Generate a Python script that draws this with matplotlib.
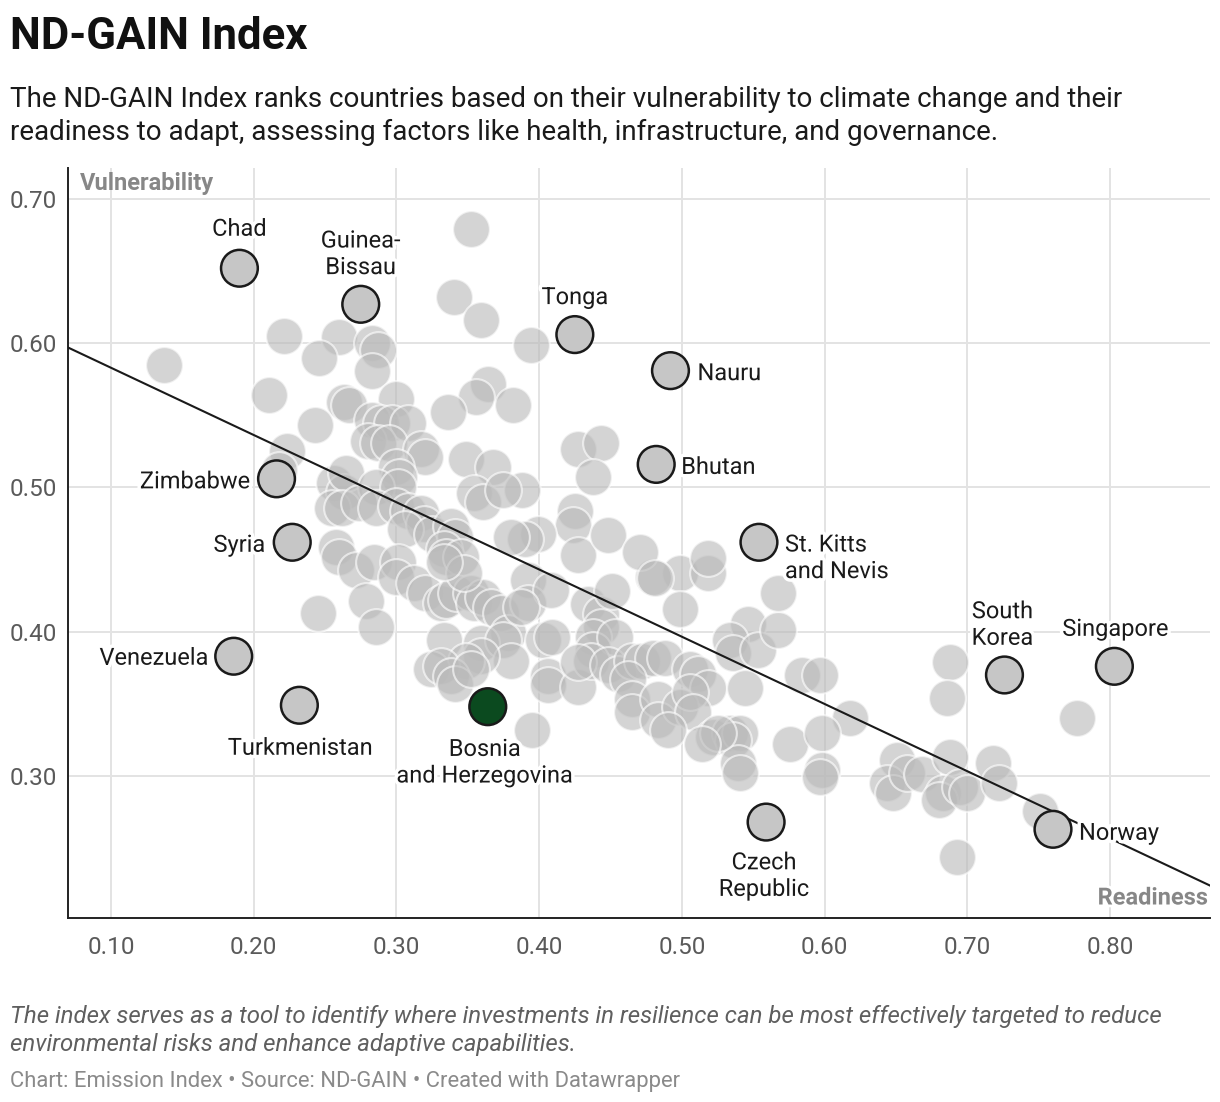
import matplotlib
matplotlib.use("Agg")
import matplotlib.pyplot as plt
import matplotlib.patheffects as pe

plt.rcParams['font.family'] = ['Roboto', 'DejaVu Sans']

# all countries (readiness, vulnerability)
readiness = [
    0.137, 0.221, 0.260, 0.246, 0.283, 0.287, 0.283, 0.211, 0.263, 0.267,
    0.300, 0.243, 0.283, 0.289, 0.297, 0.308, 0.280, 0.287, 0.295, 0.317,
    0.320, 0.223, 0.218,
    0.352, 0.340, 0.359, 0.394, 0.364, 0.356, 0.382, 0.336, 0.349, 0.368,
    0.388, 0.354, 0.361, 0.375, 0.427, 0.443, 0.438, 0.425, 0.424, 0.427,
    0.399, 0.448, 0.390, 0.380,
    0.256, 0.263, 0.265, 0.300, 0.302, 0.286, 0.301, 0.255, 0.262, 0.274,
    0.286, 0.300, 0.308, 0.317, 0.319, 0.306, 0.325, 0.338, 0.341, 0.333,
    0.335, 0.345, 0.258, 0.260, 0.272, 0.284, 0.301, 0.300, 0.312, 0.320,
    0.331, 0.335, 0.342, 0.352, 0.354, 0.361, 0.366, 0.373, 0.279, 0.245,
    0.286, 0.347, 0.333, 0.378, 0.333, 0.359, 0.375, 0.380, 0.359, 0.349,
    0.324, 0.331, 0.338, 0.341, 0.352, 0.392, 0.392, 0.395, 0.403, 0.406,
    0.406,
    0.408, 0.387, 0.409, 0.427, 0.434, 0.443, 0.451, 0.443, 0.438, 0.438,
    0.453, 0.436, 0.427, 0.448, 0.455, 0.465, 0.472, 0.480, 0.488, 0.506,
    0.511, 0.518, 0.462, 0.465, 0.465, 0.483, 0.483, 0.499, 0.506, 0.508,
    0.490, 0.522, 0.534, 0.541, 0.499, 0.518, 0.480, 0.546, 0.534, 0.536,
    0.553, 0.567, 0.567, 0.544, 0.471, 0.481, 0.518, 0.499,
    0.584, 0.597, 0.618, 0.576, 0.598, 0.598, 0.597, 0.536, 0.539, 0.541,
    0.525, 0.514, 0.651, 0.644, 0.688, 0.686, 0.777, 0.648, 0.658, 0.668,
    0.688, 0.683, 0.680, 0.695, 0.700, 0.718, 0.722, 0.751, 0.693,
]
vulnerability = [
    0.585, 0.605, 0.604, 0.590, 0.600, 0.595, 0.581, 0.564, 0.559, 0.557,
    0.561, 0.543, 0.547, 0.545, 0.545, 0.545, 0.532, 0.531, 0.531, 0.527,
    0.521, 0.525, 0.512,
    0.679, 0.632, 0.616, 0.599, 0.572, 0.563, 0.557, 0.552, 0.520, 0.514,
    0.498, 0.496, 0.490, 0.498, 0.527, 0.531, 0.507, 0.484, 0.474, 0.453,
    0.468, 0.467, 0.464, 0.466,
    0.503, 0.497, 0.510, 0.514, 0.507, 0.500, 0.500, 0.486, 0.486, 0.489,
    0.486, 0.487, 0.484, 0.482, 0.475, 0.471, 0.468, 0.473, 0.466, 0.457,
    0.452, 0.452, 0.459, 0.452, 0.443, 0.448, 0.448, 0.438, 0.434, 0.427,
    0.420, 0.422, 0.427, 0.427, 0.420, 0.424, 0.417, 0.413, 0.421, 0.413,
    0.403, 0.441, 0.448, 0.399, 0.394, 0.392, 0.394, 0.380, 0.383, 0.380,
    0.374, 0.376, 0.369, 0.364, 0.374, 0.436, 0.420, 0.332, 0.394, 0.369,
    0.363,
    0.429, 0.417, 0.396, 0.362, 0.419, 0.412, 0.428, 0.403, 0.396, 0.387,
    0.396, 0.380, 0.379, 0.377, 0.371, 0.380, 0.380, 0.382, 0.382, 0.374,
    0.371, 0.361, 0.367, 0.353, 0.344, 0.353, 0.339, 0.348, 0.358, 0.344,
    0.332, 0.327, 0.330, 0.330, 0.441, 0.441, 0.438, 0.405, 0.394, 0.385,
    0.387, 0.401, 0.427, 0.361, 0.455, 0.437, 0.451, 0.416,
    0.370, 0.370, 0.340, 0.322, 0.330, 0.304, 0.299, 0.325, 0.309, 0.302,
    0.330, 0.322, 0.311, 0.295, 0.379, 0.354, 0.340, 0.288, 0.302, 0.301,
    0.313, 0.288, 0.283, 0.292, 0.288, 0.309, 0.295, 0.276, 0.244,
]

# highlighted countries
hl_names = ['Chad', 'Guinea-\nBissau', 'Tonga', 'Nauru', 'Bhutan', 'Zimbabwe',
            'Syria', 'St. Kitts\nand Nevis', 'Venezuela', 'Turkmenistan',
            'Bosnia\nand Herzegovina', 'Czech\nRepublic', 'South\nKorea',
            'Singapore', 'Norway']
hl_readiness = [0.190, 0.275, 0.425, 0.492, 0.482, 0.216, 0.227, 0.554, 0.186,
                0.232, 0.364, 0.559, 0.726, 0.803, 0.760]
hl_vulnerability = [0.652, 0.627, 0.606, 0.581, 0.516, 0.506, 0.462, 0.462,
                    0.383, 0.349, 0.348, 0.268, 0.370, 0.376, 0.263]

# trend line end points
trend_x = [0.07, 0.87]
trend_y = [0.597, 0.224]

x_ticks = [0.10, 0.20, 0.30, 0.40, 0.50, 0.60, 0.70, 0.80]
y_ticks = [0.30, 0.40, 0.50, 0.60, 0.70]

# label placement: (dx px, dy px, ha)
label_pos = {
    'Chad': (0, 39, 'center'),
    'Guinea-\nBissau': (0, 50, 'center'),
    'Tonga': (0, 37, 'center'),
    'Nauru': (27, -3, 'left'),
    'Bhutan': (25, -3, 'left'),
    'Zimbabwe': (-26, -3, 'right'),
    'Syria': (-27, -3, 'right'),
    'St. Kitts\nand Nevis': (26, -16, 'left'),
    'Venezuela': (-25, -2, 'right'),
    'Turkmenistan': (1, -43, 'center'),
    'Bosnia\nand Herzegovina': (-3, -56, 'center'),
    'Czech\nRepublic': (-2, -54, 'center'),
    'South\nKorea': (-2, 50, 'center'),
    'Singapore': (1, 37, 'center'),
    'Norway': (26, -4, 'left'),
}

W, H = 1220, 1102
fig = plt.figure(figsize=(W / 100, H / 100), dpi=100)
fig.patch.set_facecolor('white')
ax = fig.add_axes([68 / W, 1 - 918 / H, (1210 - 68) / W, (918 - 168) / H])

ax.set_xlim(0.0699, 0.870)
ax.set_ylim(0.2015, 0.7215)
ax.set_xticks(x_ticks)
ax.set_yticks(y_ticks)
ax.set_xticklabels([f'{v:.2f}' for v in x_ticks])
ax.set_yticklabels([f'{v:.2f}' for v in y_ticks])
ax.tick_params(length=0, labelsize=17.5, colors='#5a5a5a', pad=8)
ax.tick_params(axis='x', pad=13)
ax.grid(True, color='#e3e3e3', lw=1.4, zorder=0)
ax.set_axisbelow(True)
for s in ['top', 'right']:
    ax.spines[s].set_visible(False)
for s in ['left', 'bottom']:
    ax.spines[s].set_color('#222222')
    ax.spines[s].set_linewidth(1.4)

size = 700
ax.scatter(readiness, vulnerability, s=size, c='#bababa', alpha=0.62,
           edgecolors='white', linewidths=1.5, zorder=2)
ax.plot(trend_x, trend_y, color='#1a1a1a', lw=1.5, zorder=3)

colors = ['#0b4a1f' if n.startswith('Bosnia') else '#c6c6c6' for n in hl_names]
ax.scatter(hl_readiness, hl_vulnerability, s=size, c=colors,
           edgecolors='#1a1a1a', linewidths=1.8, zorder=4)

for name, xv, yv in zip(hl_names, hl_readiness, hl_vulnerability):
    dx, dy, ha = label_pos[name]
    ax.annotate(name, (xv, yv), xytext=(dx * 0.72, dy * 0.72),
                textcoords='offset points', ha=ha, va='center',
                fontsize=17, color='#1a1a1a', linespacing=1.2, zorder=5,
                path_effects=[pe.withStroke(linewidth=5, foreground='white')])

fig.text(80 / W, 1 - 183.5 / H, 'Vulnerability', fontsize=17, fontweight='bold',
         color='#878787', ha='left', va='center')
fig.text(1208 / W, 1 - 898 / H, 'Readiness', fontsize=17, fontweight='bold',
         color='#878787', ha='right', va='center',
         path_effects=[pe.withStroke(linewidth=4, foreground='white')])

fig.text(10 / W, 1 - 37 / H, 'ND-GAIN Index', fontsize=31.5, fontweight='bold',
         color='#111111', ha='left', va='center')
fig.text(10 / W, 1 - 99.5 / H,
         'The ND-GAIN Index ranks countries based on their vulnerability to climate change and their',
         fontsize=20, color='#1a1a1a', ha='left', va='center')
fig.text(10 / W, 1 - 132.5 / H,
         'readiness to adapt, assessing factors like health, infrastructure, and governance.',
         fontsize=20, color='#1a1a1a', ha='left', va='center')

fig.text(10 / W, 1 - 1016 / H,
         'The index serves as a tool to identify where investments in resilience can be most effectively targeted to reduce',
         fontsize=17.3, style='italic', color='#5f5f5f', ha='left', va='center')
fig.text(10 / W, 1 - 1044 / H,
         'environmental risks and enhance adaptive capabilities.',
         fontsize=17.3, style='italic', color='#5f5f5f', ha='left', va='center')
fig.text(10 / W, 1 - 1081 / H,
         'Chart: Emission Index \u2022 Source: ND-GAIN \u2022 Created with Datawrapper',
         fontsize=15.8, color='#8a8a8a', ha='left', va='center')

fig.savefig('out.png', dpi=100, facecolor='white')
